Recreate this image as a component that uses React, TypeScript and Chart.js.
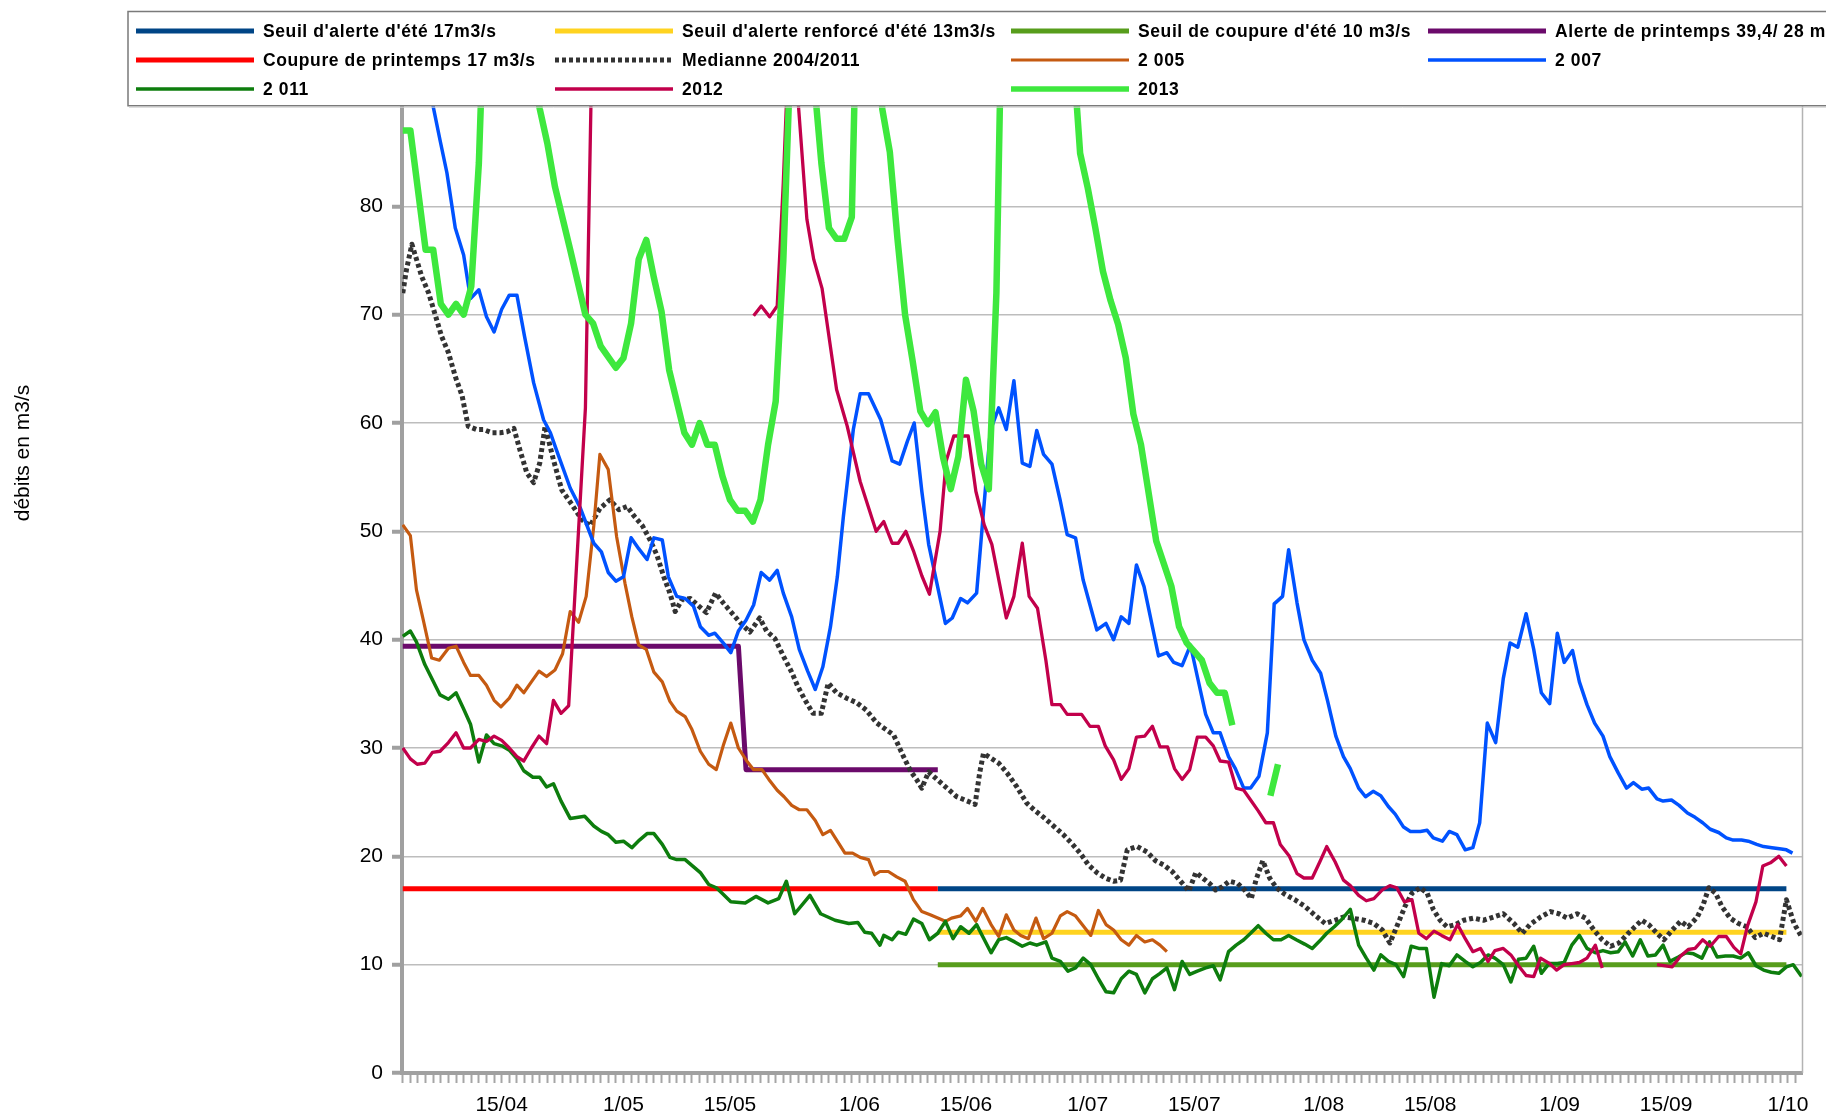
import { useEffect, useRef } from 'react';
import { Chart, registerables } from 'chart.js';

Chart.register(...registerables);

const FONT = '"Liberation Sans", Arial, Helvetica, sans-serif';

// x = days since 1 April ; y = m3/s
const tickLabels: [number, string][] = [
  [14, '15/04'], [30, '1/05'], [44, '15/05'], [61, '1/06'], [75, '15/06'], [91, '1/07'],
  [105, '15/07'], [122, '1/08'], [136, '15/08'], [153, '1/09'], [167, '15/09'], [183, '1/10'],
];

const seuilAlerteEte: [number, number][] = [[71.3, 17], [182.8, 17]];
const seuilRenforce: [number, number][] = [[71.3, 13], [182.8, 13]];
const seuilCoupureEte: [number, number][] = [[71.3, 10], [182.8, 10]];
const alertePrintemps: [number, number][] = [[1, 39.4], [45.1, 39.4], [46.1, 28], [71.3, 28]];
const coupurePrintemps: [number, number][] = [[1, 17], [71.3, 17]];

const mediane: [number, number][] = [
  [1, 72], [1.5, 74.2], [2.2, 76.5], [3.5, 73.5], [4.4, 72], [5.3, 69.9], [6.1, 68], [7, 66.5], [7.9, 64.3], [8.8, 62.5],
  [9.6, 59.7], [10.7, 59.4], [11.6, 59.4], [12.7, 59.1], [13.8, 59.1], [14.7, 59.2], [15.6, 59.5], [16.4, 57.5], [17.3, 55.4],
  [18.2, 54.5], [19, 56.3], [19.7, 59.7], [20.8, 56.6], [21.9, 53.8], [23.2, 52.5], [24.5, 51.1], [25.6, 50.5], [26.9, 52.1],
  [28.2, 52.9], [29.4, 52], [30.5, 52.3], [31.3, 51.5], [32.5, 50.5], [33.5, 49.2], [34.4, 47.8], [35.3, 45.8], [36.1, 44.3],
  [36.8, 42.6], [37.7, 43.7], [38.8, 43.8], [39.9, 43.1], [40.9, 42.5], [42.1, 44.3], [43.1, 43.4], [44.2, 42.5], [45.3, 41.6],
  [46.6, 40.7], [47.9, 42], [48.8, 40.8], [49.9, 40.1], [51, 38.5], [52.1, 37], [52.9, 35.7], [53.8, 34.5], [54.9, 33.2],
  [56, 33.2], [56.9, 36], [58, 35.1], [59.3, 34.6], [60.6, 34.2], [61.9, 33.5], [63.3, 32.3], [65.5, 31.2], [66.8, 29.2],
  [67.7, 27.9], [68.5, 27.1], [69.2, 26.3], [70.1, 27.8], [71.2, 27.1], [72.5, 26.3], [73.8, 25.5], [75.2, 25.1], [76.2, 24.8],
  [76.8, 27.7], [77.3, 29.5], [78.2, 29.1], [79.3, 28.6], [80.4, 27.7], [81.7, 26.4], [83, 24.9], [84.1, 24.2], [85.2, 23.6],
  [86.5, 22.8], [87.8, 22], [88.9, 21.2], [90, 20.3], [91.1, 19.2], [92.2, 18.5], [93.3, 18], [94.4, 17.7], [95.3, 17.8],
  [96.2, 20.6], [97.5, 20.9], [98.8, 20.4], [99.9, 19.6], [101, 19.2], [102.1, 18.6], [103.2, 17.7], [104.3, 16.8], [105.2, 18.5],
  [106.1, 18], [107, 17.5], [107.8, 16.9], [108.7, 17.2], [109.6, 17.7], [110.7, 17.5], [111.6, 16.9], [112.5, 16.1],
  [113.1, 17.8], [114, 19.6], [114.9, 18], [115.8, 17.1], [116.9, 16.5], [118.2, 16], [119.5, 15.4], [120.8, 14.6],
  [122.2, 13.8], [123.5, 14.1], [124.6, 14.4], [125.7, 14.3], [127.3, 14.1], [128.6, 13.8], [129.7, 13.2], [130.7, 12],
  [131.6, 13.5], [132.7, 15.4], [133.6, 16.6], [134.7, 17.1], [135.6, 16.6], [136.4, 15.1], [137.3, 14.1], [138.2, 13.5],
  [139.3, 13.7], [140.4, 14.1], [141.7, 14.3], [143, 14.1], [144.3, 14.4], [145.6, 14.7], [147, 13.8], [148.1, 12.9],
  [149.1, 13.7], [150.5, 14.4], [151.8, 14.9], [152.9, 14.7], [154, 14.3], [155.3, 14.7], [156.4, 14.3], [157.5, 13.2],
  [158.6, 12.3], [159.7, 11.7], [160.8, 12], [161.9, 12.8], [162.9, 13.5], [163.8, 14.1], [164.7, 13.7], [165.8, 12.9],
  [166.7, 12.3], [167.8, 13.2], [168.9, 14], [169.9, 13.5], [171.1, 14.4], [171.9, 15.6], [172.6, 17.1], [173.5, 16.6],
  [174.3, 15.4], [175.4, 14.3], [176.5, 13.8], [177.6, 13.5], [178.7, 12.5], [179.8, 12.9], [180.9, 12.6], [181.9, 12.3],
  [182.8, 16], [183.8, 13.8], [184.7, 12.7],
];

const an2005: [number, number][] = [
  [1, 50.6], [2, 49.6], [2.8, 44.6], [3.7, 41.8], [4.8, 38.3], [5.8, 38.1], [7, 39.2], [8, 39.4], [9, 37.9], [9.9, 36.7],
  [11, 36.7], [12, 35.8], [13, 34.4], [13.9, 33.8], [15, 34.6], [16, 35.8], [16.9, 35.1], [17.9, 36.1], [18.9, 37.1],
  [19.9, 36.6], [21, 37.2], [22, 38.7], [23, 42.6], [24.1, 41.6], [25.1, 44], [26.1, 50.5], [26.9, 57.1], [28, 55.7],
  [29.1, 49.5], [30.2, 45.2], [31.1, 42.1], [32, 39.5], [33, 39.1], [34, 37], [35.1, 36.1], [36.1, 34.3], [37, 33.4],
  [38.1, 32.9], [39, 31.7], [40.1, 29.7], [41.2, 28.5], [42.2, 28], [43.1, 30.2], [44.1, 32.3], [45.1, 30], [46.2, 28.8],
  [47.1, 28], [48.2, 28], [49.1, 27.1], [50.2, 26.1], [51.1, 25.5], [52.1, 24.7], [53.1, 24.3], [54.1, 24.3], [55.2, 23.3],
  [56.2, 22], [57.2, 22.4], [58.1, 21.4], [59.1, 20.3], [60.1, 20.3], [61.1, 19.9], [62.2, 19.7], [63, 18.3], [63.7, 18.6],
  [64.8, 18.6], [65.9, 18.1], [67, 17.7], [68.1, 16], [69.2, 14.9], [70.3, 14.6], [71.3, 14.3], [72.3, 14], [73.1, 14.3],
  [74.3, 14.5], [75.2, 15.2], [76.3, 14], [77.2, 15.2], [78.3, 13.7], [79.3, 12.6], [80.3, 14.6], [81.3, 13.2], [82.2, 12.7],
  [83.2, 12.4], [84.2, 14.3], [85.2, 12.4], [86.3, 12.9], [87.4, 14.5], [88.3, 14.9], [89.4, 14.5], [90.4, 13.6], [91.4, 12.7],
  [92.4, 15], [93.4, 13.7], [94.4, 13.2], [95.4, 12.3], [96.4, 11.8], [97.4, 12.7], [98.5, 12.1], [99.5, 12.3], [100.5, 11.8],
  [101.4, 11.2],
];

const an2007: [number, number][] = [
  [1, 110], [3, 100], [4, 95], [5, 89.2], [5.9, 86.1], [6.8, 83.1], [7.9, 78], [9, 75.5], [9.9, 71.5], [11, 72.3], [12, 69.8],
  [13, 68.4], [14, 70.5], [15, 71.8], [16, 71.8], [17, 68], [18.2, 63.7], [19.5, 60.3], [20.4, 59.1], [21.2, 57.5], [23, 54],
  [24.3, 52.2], [26.1, 48.9], [27.1, 48.1], [28, 46.2], [29, 45.4], [30, 45.8], [31, 49.4], [32, 48.4], [33.1, 47.4],
  [34, 49.4], [35.1, 49.2], [35.9, 45.8], [37, 44], [38.1, 43.8], [39.2, 43.1], [40.1, 41.2], [41.2, 40.4], [42, 40.6],
  [43.1, 39.7], [44.1, 38.8], [45.1, 40.8], [46.1, 41.8], [47.1, 43.2], [48.1, 46.2], [49.2, 45.5], [50.2, 46.4], [51, 44.3],
  [52.1, 42.1], [53.1, 39.1], [54.2, 37.1], [55.2, 35.4], [56.2, 37.5], [57.2, 41.2], [58.1, 45.8], [58.9, 51.4], [60.2, 59.4],
  [61.1, 62.7], [62.2, 62.7], [63.8, 60.3], [65.3, 56.5], [66.3, 56.2], [67.3, 58.3], [68.2, 60], [69.2, 53.7], [70.1, 48.8],
  [72.3, 41.5], [73.2, 42], [74.3, 43.8], [75.2, 43.4], [76.4, 44.3], [78.2, 59.3], [79.3, 61.4], [80.3, 59.4], [81.3, 63.9],
  [82.4, 56.3], [83.4, 56], [84.3, 59.3], [85.2, 57.1], [86.3, 56.2], [87.4, 52.8], [88.3, 49.7], [89.4, 49.4], [90.4, 45.5],
  [92.2, 40.9], [93.4, 41.5], [94.4, 40], [95.4, 42.1], [96.4, 41.5], [97.4, 46.9], [98.4, 44.9], [100.3, 38.5], [101.4, 38.8],
  [102.3, 37.9], [103.4, 37.6], [104.5, 39.5], [105.4, 36.6], [106.5, 33.1], [107.5, 31.4], [108.4, 31.4], [109.5, 29.2],
  [110.4, 28.1], [111.5, 26.3], [112.4, 26.3], [113.5, 27.4], [114.6, 31.4], [115.5, 43.3], [116.6, 44], [117.4, 48.3],
  [118.5, 43.4], [119.4, 40], [120.5, 38.1], [121.6, 36.9], [122.5, 34.4], [123.6, 31.1], [124.6, 29.2], [125.5, 28.1],
  [126.6, 26.3], [127.5, 25.5], [128.5, 26], [129.5, 25.6], [130.5, 24.6], [131.4, 23.9], [132.5, 22.7], [133.4, 22.3],
  [134.7, 22.3], [135.6, 22.4], [136.4, 21.7], [137.6, 21.4], [138.5, 22.3], [139.5, 22], [140.6, 20.6], [141.6, 20.8],
  [142.5, 23.1], [143.5, 32.3], [144.6, 30.5], [145.6, 36.4], [146.5, 39.7], [147.5, 39.3], [148.6, 42.4], [149.6, 39.1],
  [150.6, 35.1], [151.7, 34.1], [152.7, 40.6], [153.6, 37.9], [154.7, 39], [155.6, 36.1], [156.6, 34], [157.6, 32.3],
  [158.7, 31.1], [159.6, 29.2], [160.7, 27.7], [161.8, 26.3], [162.7, 26.8], [163.8, 26.2], [164.7, 26.3], [165.8, 25.3],
  [166.6, 25.1], [167.7, 25.2], [168.7, 24.7], [169.8, 24], [170.8, 23.6], [171.8, 23.1], [172.8, 22.5], [173.9, 22.2],
  [174.9, 21.7], [175.8, 21.5], [176.9, 21.5], [177.8, 21.4], [178.9, 21.1], [179.8, 20.9], [180.9, 20.8], [181.9, 20.7],
  [182.8, 20.6], [183.6, 20.3],
];

const an2011: [number, number][] = [
  [1, 40.3], [2, 40.8], [2.8, 39.8], [3.9, 37.7], [4.9, 36.3], [5.9, 34.9], [7, 34.5], [8, 35.1], [9, 33.6], [9.9, 32.2],
  [11, 28.7], [12, 31.2], [13, 30.4], [14, 30.2], [15, 29.8], [16, 29], [16.9, 27.9], [18.1, 27.3], [19, 27.3], [19.9, 26.4],
  [20.8, 26.7], [21.8, 25.1], [23, 23.5], [24.9, 23.7], [26.1, 22.8], [27.1, 22.3], [28, 22], [29, 21.3], [30, 21.4],
  [31.1, 20.8], [32.1, 21.5], [33.1, 22.1], [34, 22.1], [35.1, 21.1], [36.1, 19.9], [37, 19.7], [38.1, 19.7], [39.1, 19.1],
  [40.1, 18.5], [41.2, 17.4], [42.2, 17.1], [43.1, 16.5], [44.1, 15.8], [46, 15.7], [47.4, 16.3], [49, 15.7], [50.4, 16.1],
  [51.4, 17.7], [52.5, 14.7], [54.5, 16.4], [55.9, 14.7], [57.8, 14.1], [59.6, 13.8], [60.8, 13.9], [61.7, 13], [62.6, 12.9],
  [63.7, 11.8], [64.2, 12.7], [65.3, 12.3], [66.1, 13], [67.1, 12.8], [68.1, 14.2], [69.2, 13.8], [70.2, 12.3], [71.3, 12.9],
  [72.3, 14], [73.3, 12.4], [74.3, 13.5], [75.4, 12.9], [76.4, 13.7], [77.2, 12.6], [78.3, 11.1], [79.3, 12.3], [80.3, 12.5],
  [81.4, 12.1], [82.4, 11.7], [83.4, 12], [84.3, 11.8], [85.5, 12.1], [86.3, 10.6], [87.4, 10.3], [88.4, 9.4], [89.4, 9.7],
  [90.4, 10.6], [91.4, 10], [92.4, 8.7], [93.4, 7.5], [94.4, 7.4], [95.4, 8.7], [96.4, 9.4], [97.4, 9.1], [98.5, 7.4],
  [99.5, 8.7], [100.5, 9.2], [101.4, 9.7], [102.4, 7.7], [103.4, 10.3], [104.4, 9.1], [105.4, 9.4], [106.5, 9.7], [107.5, 9.9],
  [108.4, 8.6], [109.5, 11.2], [110.5, 11.8], [111.5, 12.3], [112.4, 12.9], [113.4, 13.6], [114.4, 12.9], [115.4, 12.3],
  [116.4, 12.3], [117.4, 12.7], [118.4, 12.3], [119.5, 11.9], [120.5, 11.5], [121.5, 12.2], [122.4, 12.9], [123.4, 13.5],
  [124.4, 14.2], [125.5, 15.1], [126.6, 11.8], [127.6, 10.6], [128.6, 9.5], [129.5, 10.9], [130.5, 10.3], [131.5, 10],
  [132.5, 8.9], [133.5, 11.7], [134.5, 11.5], [135.5, 11.5], [136.5, 7], [137.5, 10.1], [138.5, 9.9], [139.5, 10.9],
  [140.6, 10.3], [141.6, 9.8], [142.6, 10.2], [143.6, 10.9], [144.5, 10.6], [145.6, 10], [146.6, 8.4], [147.6, 10.5],
  [148.6, 10.6], [149.6, 11.7], [150.6, 9.2], [151.6, 10.1], [152.7, 10.1], [153.6, 10.2], [154.6, 11.8], [155.6, 12.7],
  [156.6, 11.5], [157.7, 11.1], [158.7, 11.3], [159.7, 11.1], [160.7, 11.2], [161.6, 12.1], [162.6, 10.8], [163.6, 12.3],
  [164.6, 10.8], [165.6, 10.9], [166.6, 11.8], [167.5, 10.3], [168.6, 10.7], [169.6, 11.1], [170.6, 11], [171.7, 10.6],
  [172.7, 12.1], [173.7, 10.7], [174.8, 10.8], [175.8, 10.8], [176.8, 10.6], [177.8, 11.1], [178.8, 9.9], [179.8, 9.5],
  [180.8, 9.3], [181.8, 9.2], [182.8, 9.8], [183.7, 10], [184.8, 8.9],
];

const an2012: [number, number | null][] = [
  [1, 30], [2, 29], [2.9, 28.5], [3.9, 28.6], [4.9, 29.6], [5.9, 29.7], [7, 30.5], [8, 31.4], [9, 30], [9.9, 30], [11, 30.8],
  [12, 30.6], [13, 31.1], [14, 30.7], [15, 30], [16, 29.2], [16.9, 28.8], [17.9, 30], [18.9, 31.1], [19.9, 30.4], [20.8, 34.4],
  [21.8, 33.2], [22.8, 33.9], [25, 61.4], [26, 100], [27, null],
  [47.1, 69.9], [48.1, 70.8], [49.2, 69.8], [50.2, 70.8], [51, 82.2], [52, 100], [53, 89.2], [54.1, 78.8], [55, 75.1],
  [56.1, 72.4], [58, 63.1], [59.4, 59.7], [61.1, 54.6], [63.2, 50], [64.2, 50.9], [65.3, 48.9], [66.1, 48.9], [67.1, 50],
  [68.1, 48.2], [69.2, 45.9], [70.2, 44.2], [71.6, 50], [72.4, 56.5], [73.4, 58.8], [74.4, 58.8], [75.3, 58.8], [76.3, 53.7],
  [77.4, 50.6], [78.4, 48.8], [80.3, 42], [81.3, 44], [82.4, 48.9], [83.3, 44], [84.4, 42.9], [85.5, 38.1], [86.3, 34],
  [87.4, 34], [88.3, 33.1], [90.2, 33.1], [91.3, 32], [92.4, 32], [93.3, 30.2], [94.4, 28.9], [95.4, 27.1], [96.4, 28.1],
  [97.4, 31], [98.5, 31.1], [99.5, 32], [100.5, 30.1], [101.5, 30.1], [102.4, 28.1], [103.4, 27.1], [104.4, 28], [105.4, 31],
  [106.5, 31], [107.5, 30.2], [108.4, 28.8], [109.5, 28.7], [110.5, 26.3], [111.5, 26.1], [112.4, 25.2], [113.4, 24.2],
  [114.4, 23.1], [115.4, 23.1], [116.3, 21.1], [117.5, 20], [118.5, 18.4], [119.4, 18], [120.5, 18], [121.5, 19.5],
  [122.4, 20.9], [123.5, 19.5], [124.6, 17.8], [125.5, 17.3], [126.6, 16.4], [127.6, 15.9], [128.6, 16.1], [129.7, 16.9],
  [130.7, 17.3], [131.6, 17.1], [132.6, 15.8], [133.6, 16], [134.5, 12.9], [135.5, 12.4], [136.5, 13.1], [137.5, 12.7],
  [138.6, 12.3], [139.6, 13.7], [140.6, 12.4], [141.6, 11.2], [142.6, 11.5], [143.6, 10.3], [144.5, 11.3], [145.6, 11.5],
  [146.6, 10.9], [147.6, 9.9], [148.6, 9], [149.6, 8.9], [150.5, 10.6], [151.7, 10.1], [152.6, 9.5], [153.6, 10], [154.6, 10.1],
  [155.6, 10.2], [156.6, 10.6], [157.7, 11.8], [158.6, 9.7], [159.5, null],
  [165.8, 10], [167.8, 9.8], [168.9, 10.8], [169.9, 11.4], [170.8, 11.5], [171.8, 12.3], [172.8, 11.7], [173.9, 12.6],
  [174.9, 12.6], [175.9, 11.6], [176.8, 11], [177.7, 13.6], [178.8, 15.8], [179.7, 19.1], [180.7, 19.4], [181.8, 20],
  [182.8, 19.1],
];

const an2013: [number, number | null][] = [
  [1, 87], [2, 87], [4, 76], [5, 76], [6, 71], [7, 70], [8, 71], [9, 70], [10, 72.6], [11, 84], [12, 105], [14, 115],
  [16, 110], [18, 93], [19, 89], [20, 85.8], [21, 81.8], [23, 76], [25, 70], [26, 69.2], [27, 67.1], [29, 65.1], [30, 66],
  [31, 69.2], [32, 75.1], [33, 76.9], [34, 73.4], [35, 70.3], [36, 64.9], [38, 59.1], [39, 58], [40, 60], [41, 58], [42, 58],
  [43, 55.1], [44, 52.9], [45, 51.9], [46, 51.9], [47, 50.9], [48, 52.9], [49, 58], [50, 62], [51, 75], [52, 95], [53, 110],
  [54, 110], [55, 92], [56, 84], [57, 78], [58, 77], [59, 77], [60, 79], [61, 110], [63, 105], [64, 89], [65, 85], [66, 77],
  [67, 70], [68, 65.7], [69, 61.1], [70, 59.9], [71, 61], [72, 56.8], [73, 53.9], [74, 56.9], [75, 64], [76, 61.1], [77, 56.2],
  [78, 53.9], [79, 72], [80, 110], [85, 130], [89, 95], [90, 84.9], [91, 81.7], [92, 78], [93, 74], [94, 71.3], [95, 69.1],
  [96, 66], [97, 60.8], [98, 58], [100, 49.1], [101, 47], [102, 44.9], [103, 41.2], [104, 39.7], [106, 38.1], [107, 36],
  [108, 35.1], [109, 35.1], [110, 32.1], [111, null], [115, 25.6], [116, 28.5],
];

type Serie = {
  label: string; data: [number, number | null][]; color: string; width: number; dash?: number[];
};

const series: Serie[] = [
  { label: "Seuil d'alerte d'été 17m3/s", data: seuilAlerteEte, color: '#004586', width: 5 },
  { label: "Seuil d'alerte renforcé d'été 13m3/s", data: seuilRenforce, color: '#ffd320', width: 5 },
  { label: "Seuil de coupure d'été 10 m3/s", data: seuilCoupureEte, color: '#579d1c', width: 5 },
  { label: 'Alerte de printemps 39,4/ 28 m3/s', data: alertePrintemps, color: '#6b0a6b', width: 5 },
  { label: 'Coupure de printemps 17 m3/s', data: coupurePrintemps, color: '#ff0000', width: 5 },
  { label: 'Medianne 2004/2011', data: mediane, color: '#333333', width: 5, dash: [4, 3] },
  { label: '2 005', data: an2005, color: '#c55a11', width: 3.2 },
  { label: '2 007', data: an2007, color: '#0052ff', width: 3.5 },
  { label: '2 011', data: an2011, color: '#0d7d0d', width: 3.5 },
  { label: '2012', data: an2012, color: '#c2004b', width: 3.3 },
  { label: '2013', data: an2013, color: '#3ee83e', width: 6.5 },
];

const decor = {
  id: 'decor',
  afterDraw(chart: any) {
    const ctx = chart.ctx as CanvasRenderingContext2D;
    const a = chart.chartArea;
    ctx.save();
    // right border of plot
    ctx.strokeStyle = '#b3b3b3';
    ctx.lineWidth = 1.5;
    ctx.beginPath();
    ctx.moveTo(a.right + 0.5, a.top);
    ctx.lineTo(a.right + 0.5, a.bottom);
    ctx.stroke();

    // legend box
    const bx = 128, by = 11.5, bb = 105.7;
    ctx.fillStyle = '#ffffff';
    ctx.fillRect(bx, by, 1826 - bx + 10, bb - by);
    ctx.strokeStyle = '#7a7a7a';
    ctx.lineWidth = 1.5;
    ctx.beginPath();
    ctx.moveTo(1830, by);
    ctx.lineTo(bx, by);
    ctx.lineTo(bx, bb);
    ctx.lineTo(1830, bb);
    ctx.stroke();
    ctx.strokeStyle = '#d0d0d0';
    ctx.lineWidth = 1;
    ctx.beginPath();
    ctx.moveTo(bx + 1, bb + 1.5);
    ctx.lineTo(1830, bb + 1.5);
    ctx.stroke();

    const cols = [136, 555, 1011, 1428];
    const rows = [31, 60, 89];
    series.forEach((s, k) => {
      const x = cols[k % 4];
      const y = rows[Math.floor(k / 4)];
      ctx.strokeStyle = s.color;
      ctx.lineWidth = Math.min(s.width, 5.5);
      ctx.lineCap = 'butt';
      ctx.setLineDash(s.dash || []);
      ctx.beginPath();
      ctx.moveTo(x, y);
      ctx.lineTo(x + 118, y);
      ctx.stroke();
      ctx.setLineDash([]);
      ctx.fillStyle = '#000000';
      ctx.font = `bold 17.5px ${FONT}`;
      (ctx as any).letterSpacing = '0.6px';
      ctx.textAlign = 'left';
      ctx.textBaseline = 'middle';
      ctx.fillText(s.label, x + 127, y + 1);
      (ctx as any).letterSpacing = '0px';
    });

    // y axis title
    ctx.translate(23, 453);
    ctx.rotate(-Math.PI / 2);
    ctx.fillStyle = '#000000';
    ctx.font = `21px ${FONT}`;
    ctx.textAlign = 'center';
    ctx.textBaseline = 'middle';
    ctx.fillText('débits en m3/s', 0, 0);
    ctx.restore();
  },
};

export default function App() {
  const ref = useRef<HTMLCanvasElement>(null);
  useEffect(() => {
    const labelMap = new Map(tickLabels);
    const chart = new Chart(ref.current as HTMLCanvasElement, {
      type: 'line',
      data: {
        datasets: series.map((s, i) => ({
          label: s.label,
          data: s.data.map(([x, y]) => ({ x, y })),
          borderColor: s.color,
          backgroundColor: s.color,
          borderWidth: s.width,
          borderDash: s.dash || [],
          borderCapStyle: 'butt',
          borderJoinStyle: 'round',
          pointRadius: 0,
          pointHoverRadius: 0,
          tension: 0,
          fill: false,
          spanGaps: false,
          order: series.length - i,
        })) as any,
      },
      options: {
        animation: false,
        responsive: false,
        maintainAspectRatio: false,
        devicePixelRatio: 1,
        parsing: false as any,
        layout: { padding: { top: 98, right: 24, left: 0, bottom: 0 } },
        plugins: { legend: { display: false }, tooltip: { enabled: false }, title: { display: false } },
        scales: {
          x: {
            type: 'linear',
            min: 0.9,
            max: 184.85,
            afterFit: (scale: any) => { scale.height = 46; },
            afterBuildTicks: (scale: any) => {
              const t = [];
              for (let d = 1; d <= 184; d++) t.push({ value: d });
              scale.ticks = t;
            },
            ticks: {
              autoSkip: false,
              maxRotation: 0,
              minRotation: 0,
              padding: 10,
              color: '#000000',
              font: { family: FONT, size: 21 },
              callback: (v: any) => labelMap.get(Number(v)) ?? '',
            },
            grid: {
              drawOnChartArea: false,
              drawTicks: true,
              tickLength: 10,
              tickColor: '#a6a6a6',
              tickWidth: 2,
            },
            border: { display: true, color: '#a0a0a0', width: 4 },
          },
          y: {
            type: 'linear',
            min: 0,
            max: 90,
            afterFit: (scale: any) => { scale.width = 402; },
            ticks: {
              stepSize: 10,
              padding: 9,
              color: '#000000',
              font: { family: FONT, size: 21 },
            },
            grid: {
              color: '#bdbdbd',
              lineWidth: 1.5,
              tickLength: 10,
              tickColor: '#a0a0a0',
              tickWidth: 4,
            },
            border: { display: true, color: '#a0a0a0', width: 4 },
          },
        },
      },
      plugins: [decor],
    });
    return () => chart.destroy();
  }, []);
  return (
    <div style={{ position: 'absolute', left: 0, top: 0, width: 1826, height: 1119, background: '#ffffff', overflow: 'hidden' }}>
      <canvas ref={ref} width={1826} height={1119} style={{ display: 'block', width: 1826, height: 1119 }} />
    </div>
  );
}
